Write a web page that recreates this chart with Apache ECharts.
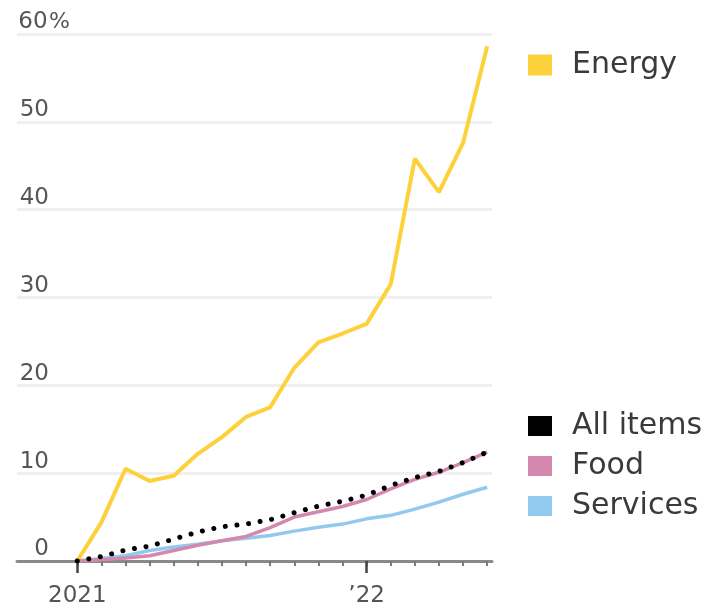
<!DOCTYPE html>
<html>
<head>
<meta charset="utf-8">
<script src="https://cdn.jsdelivr.net/npm/echarts@6/dist/echarts.min.js"></script>
<style>
  html, body { margin: 0; padding: 0; background: #fff; }
  #chart { width: 712px; height: 608px; }
</style>
</head>
<body>
<div id="chart"></div>
<script>
// Monthly cumulative price change since January 2021, in percent
var months = ['Jan 2021','Feb 2021','Mar 2021','Apr 2021','May 2021','Jun 2021',
              'Jul 2021','Aug 2021','Sep 2021','Oct 2021','Nov 2021','Dec 2021',
              'Jan 2022','Feb 2022','Mar 2022','Apr 2022','May 2022','Jun 2022'];
var energy   = [0, 4.4, 10.5, 9.1, 9.7, 12.2, 14.1, 16.4, 17.5, 22.0, 24.9, 25.9, 27.0, 31.5, 45.8, 42.0, 47.6, 58.6];
var allItems = [0, 0.5, 1.25, 1.7, 2.5, 3.3, 3.9, 4.2, 4.7, 5.5, 6.25, 6.8, 7.5, 8.6, 9.5, 10.2, 11.2, 12.4];
var food     = [0, 0.15, 0.35, 0.6, 1.2, 1.8, 2.3, 2.8, 3.8, 5.0, 5.6, 6.2, 7.0, 8.2, 9.3, 10.1, 11.2, 12.4];
var services = [0, 0.3, 0.6, 1.2, 1.6, 1.9, 2.3, 2.6, 2.9, 3.4, 3.85, 4.2, 4.8, 5.2, 5.9, 6.7, 7.6, 8.4];

// Tick labels
var yTicks = [0, 10, 20, 30, 40, 50, 60];
var xLabelAt = { 0: '2021', 12: '\u201922' };

var FONT = 'DejaVu Sans';

function pairs(arr) {
  return arr.map(function (v, i) { return [i, v]; });
}
var monthIdx = months.map(function (m, i) { return i; });

var colors = {
  energy: '#fdd13a',
  all: '#000000',
  food: '#d488ad',
  services: '#92c9ee'
};

var chart = echarts.init(document.getElementById('chart'), null, { renderer: 'canvas' });

chart.setOption({
  animation: false,
  backgroundColor: '#ffffff',
  grid: { left: 17, right: 220, top: 34, bottom: 46, containLabel: false },
  xAxis: [
    {
      type: 'value',
      min: -2.5,
      max: 17.2,
      axisLine: { show: true, lineStyle: { color: '#8a8a8a', width: 3 } },
      axisTick: {
        show: true,
        customValues: monthIdx,
        length: 5,
        lineStyle: { color: '#7a7a7a', width: 2 }
      },
      axisLabel: {
        show: true,
        customValues: [0, 12],
        formatter: function (v) { return xLabelAt[v] || ''; },
        margin: 24,
        fontFamily: FONT,
        fontSize: 23,
        color: '#555'
      },
      splitLine: { show: false }
    },
    {
      type: 'value',
      position: 'bottom',
      min: -2.5,
      max: 17.2,
      axisLine: { show: false },
      axisTick: {
        show: true,
        customValues: [0, 12],
        length: 12,
        lineStyle: { color: '#444', width: 2.5 }
      },
      axisLabel: { show: false },
      splitLine: { show: false }
    }
  ],
  yAxis: {
    type: 'value',
    min: 0,
    max: 60,
    interval: 10,
    axisLine: { show: false },
    axisTick: { show: false },
    splitLine: { show: true, lineStyle: { color: '#f0f0f0', width: 3 } },
    axisLabel: {
      inside: true,
      margin: 0,
      align: 'left',
      verticalAlign: 'bottom',
      padding: [0, 0, 0, 0],
      fontFamily: FONT,
      fontSize: 23,
      color: '#555',
      formatter: function (v) {
        return v === 60 ? '{n|' + v + '}{p|%}' : '{n|' + v + '}';
      },
      rich: {
        n: { width: 32, align: 'right', fontFamily: FONT, fontSize: 23, color: '#555' },
        p: { fontFamily: FONT, fontSize: 22, color: '#555' }
      }
    }
  },
  legend: [
    {
      orient: 'vertical',
      left: 528,
      top: 50,
      padding: 0,
      icon: 'rect',
      itemWidth: 24,
      itemHeight: 21,
      data: [{ name: 'Energy', itemStyle: { color: colors.energy } }],
      textStyle: { fontFamily: FONT, fontSize: 30, color: '#3a3a3a', padding: [0, 0, 0, 15] }
    },
    {
      orient: 'vertical',
      left: 528,
      top: 411,
      padding: 0,
      icon: 'rect',
      itemWidth: 24,
      itemHeight: 20,
      itemGap: 10,
      data: [
        { name: 'All items', itemStyle: { color: colors.all } },
        { name: 'Food', itemStyle: { color: colors.food } },
        { name: 'Services', itemStyle: { color: colors.services } }
      ],
      textStyle: { fontFamily: FONT, fontSize: 30, color: '#3a3a3a', padding: [0, 0, 0, 15] }
    }
  ],
  series: [
    {
      name: 'Energy',
      type: 'line',
      data: pairs(energy),
      symbol: 'none',
      color: colors.energy,
      lineStyle: { color: colors.energy, width: 4 },
      z: 2
    },
    {
      name: 'Services',
      type: 'line',
      data: pairs(services),
      symbol: 'none',
      color: colors.services,
      lineStyle: { color: colors.services, width: 3.5 },
      z: 3
    },
    {
      name: 'Food',
      type: 'line',
      data: pairs(food),
      symbol: 'none',
      color: colors.food,
      lineStyle: { color: colors.food, width: 3.5 },
      z: 4
    },
    {
      name: 'All items',
      type: 'line',
      data: pairs(allItems),
      symbol: 'none',
      color: colors.all,
      lineStyle: { color: colors.all, width: 5, type: [0.01, 11.7], cap: 'round' },
      z: 5
    }
  ]
});
</script>
</body>
</html>
